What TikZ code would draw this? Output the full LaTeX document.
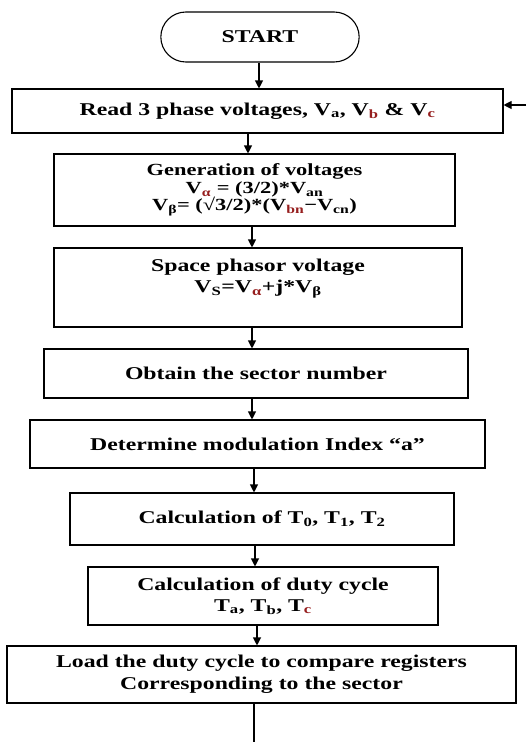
\documentclass[tikz,border=0pt]{standalone}
\usepackage{fontspec}
\setmainfont{Liberation Serif}[FakeStretch=1.32]
\usetikzlibrary{shapes.misc,arrows.meta}
\definecolor{subred}{RGB}{150,30,30}
\newcommand{\sbr}[1]{\textsubscript{\textcolor{subred}{#1}}}
\newcommand{\sbk}[1]{\textsubscript{#1}}
\begin{document}
\begin{tikzpicture}[x=1pt,y=-1pt,
  every node/.style={font=\fontsize{18}{21}\selectfont\bfseries},
  box/.style={draw,line width=1.1pt,rectangle,align=center,inner sep=0pt},
  term/.style={draw,line width=1.1pt,rounded rectangle,rounded rectangle arc length=180,minimum width=205pt,minimum height=50pt},
  arr/.style={line width=1.1pt,-{Triangle[length=8pt,width=8pt]}},
  ln/.style={line width=1.1pt}]
\useasboundingbox (0,0) rectangle (529,742);
\node[term] (start) at (260,37) {START};
\node[box,minimum width=491pt,minimum height=44pt] (read) at (257.5,111)
  {Read 3 phase voltages, V\sbk{a}, V\sbr{b} \& V\sbr{c}};
\node[box,minimum width=401pt,minimum height=72pt,font=\fontsize{17}{17.5}\selectfont\bfseries] (gen) at (254.5,190)
  {Generation of voltages\\ V\sbr{α} = (3/2)*V\sbk{an}\\ V\sbk{β}= (√3/2)*(V\sbr{bn}−V\sbk{cn})};
\node[box,minimum width=408pt,minimum height=79pt] (space) at (258,287.5)
  {Space phasor voltage\\ V\sbk{S}=V\sbr{α}+j*V\sbk{β}\\[2pt]};
\node[box,minimum width=424pt,minimum height=49pt] (obtain) at (256,373.5)
  {Obtain the sector number};
\node[box,minimum width=455pt,minimum height=48pt] (mod) at (257.5,444)
  {Determine modulation Index “a”};
\node[box,minimum width=384pt,minimum height=52pt] (calc) at (262,519)
  {Calculation of T\sbk{0}, T\sbk{1}, T\sbk{2}};
\node[box,minimum width=350pt,minimum height=58pt,font=\fontsize{18}{21}\selectfont\bfseries] (duty) at (263,596)
  {Calculation of duty cycle\\ T\sbk{a}, T\sbk{b}, T\sbr{c}};
\node[box,minimum width=509pt,minimum height=57pt,font=\fontsize{18}{22}\selectfont\bfseries] (load) at (261.5,674.5)
  {Load the duty cycle to compare registers\\ Corresponding to the sector};
\coordinate (fb) at (526,105);
\coordinate (out) at (254,742);
\draw[arr] (start.south -| 259,0) -- (read.north -| 259,0);
\draw[arr] (read.south -| 248,0) -- (gen.north -| 248,0);
\draw[arr] (gen.south -| 252,0) -- (space.north -| 252,0);
\draw[arr] (space.south -| 252,0) -- (obtain.north -| 252,0);
\draw[arr] (obtain.south -| 252,0) -- (mod.north -| 252,0);
\draw[arr] (mod.south -| 254,0) -- (calc.north -| 254,0);
\draw[arr] (calc.south -| 255,0) -- (duty.north -| 255,0);
\draw[arr] (duty.south -| 257,0) -- (load.north -| 257,0);
\draw[arr] (fb) -- (fb -| read.east);
\draw[ln] (load.south -| out) -- (out);
\end{tikzpicture}
\end{document}
